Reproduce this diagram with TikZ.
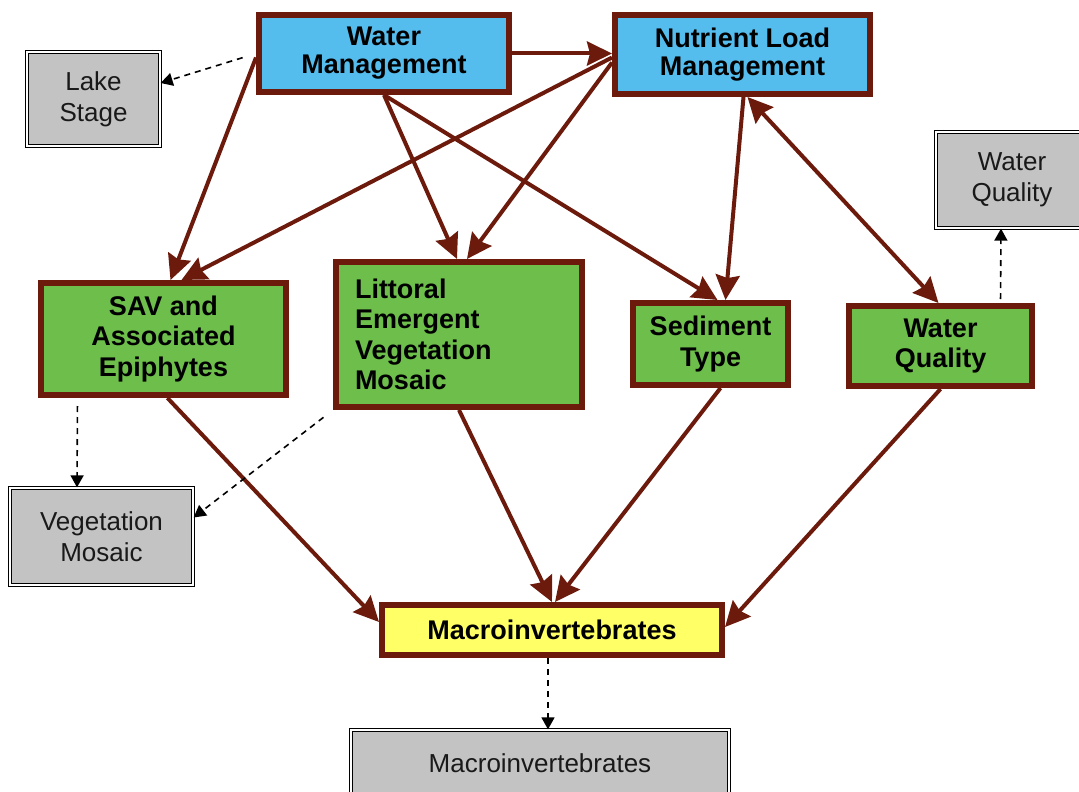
\documentclass[tikz,border=0pt]{standalone}
\usepackage{fontspec}
\setmainfont{Liberation Sans}
\usetikzlibrary{arrows.meta}
\definecolor{rust}{HTML}{6B1A0C}
\definecolor{skyfill}{HTML}{55BDEE}
\definecolor{leaf}{HTML}{6DBE4B}
\definecolor{lemon}{HTML}{FFFF66}
\definecolor{ash}{HTML}{C3C3C3}

\begin{document}
\begin{tikzpicture}[
    x=1pt, y=-1pt,
    driver/.style={
        draw=rust,
        line width=6pt,
        fill=skyfill,
        inner sep=0pt,
        font=\bfseries\fontsize{27}{28}\selectfont,
        align=center,
    },
    habitat/.style={driver, fill=leaf, font=\bfseries\fontsize{27}{30.5}\selectfont},
    target/.style={driver, fill=lemon},
    measure/.style={
        draw=black,
        line width=1.3pt,
        double=white,
        double distance=1.8pt,
        fill=ash,
        inner sep=0pt,
        text=black!90,
        font=\fontsize{26}{31}\selectfont,
        align=center,
    },
    flow/.style={draw=rust, line width=4pt, -{Stealth[length=25pt,width=24pt,inset=3pt]}},
    twoway/.style={flow, {Stealth[length=25pt,width=24pt,inset=3pt]}-{Stealth[length=25pt,width=24pt,inset=3pt]}},
    hint/.style={draw=black, line width=1.6pt, dash pattern=on 6pt off 5pt, -{Triangle[length=12pt,width=13pt]}},
]

\useasboundingbox (0,0) rectangle (1079,792);

\node[driver, minimum width=250, minimum height=77] (wm) at (384, 53.5) {Water\\Management};
\node[driver, minimum width=255, minimum height=79] (nlm) at (742.5, 54.5) {Nutrient Load\\Management};

\node[habitat, minimum width=245, minimum height=112] (sav) at (163.5, 339) {SAV and\\Associated\\Epiphytes};
\node[habitat, minimum width=246, minimum height=145, align=left, text width=208pt] (lit) at (459, 334.5) {Littoral\\Emergent\\Vegetation\\Mosaic};
\node[habitat, minimum width=155, minimum height=82] (sed) at (710.5, 344) {Sediment\\Type};
\node[habitat, minimum width=183, minimum height=80] (wq) at (940.5, 346) {Water\\Quality};

\node[target, minimum width=340, minimum height=50] (macro) at (552, 630) {Macroinvertebrates};

\node[measure, minimum width=133, minimum height=94] (lake) at (93.5, 99) {Lake\\Stage};
\node[measure, minimum width=152, minimum height=96] (wqm) at (1012, 180) {Water\\Quality};
\node[measure, minimum width=183, minimum height=97] (veg) at (101.5, 536.5) {Vegetation\\Mosaic};
\node[measure, minimum width=378, minimum height=66] (macrom) at (540, 763) {Macroinvertebrates};

\draw[flow] (wm.east) -- (wm.east -| nlm.west);
\draw[flow] ([yshift=-4pt]wm.west) -- ([xshift=7pt]sav.north);
\draw[flow] ([yshift=-3pt]nlm.west) -- ([xshift=18pt]sav.north);
\draw[flow] (wm.south) -- ([xshift=-2pt]lit.north);
\draw[flow] ([yshift=-8pt]nlm.west) -- ([xshift=8pt]lit.north);
\draw[flow] (wm.south) -- ([xshift=7pt]sed.north);
\draw[flow] ([xshift=1pt]nlm.south) -- ([xshift=15pt]sed.north);
\draw[twoway] ([xshift=5pt]nlm.south) -- ([xshift=-2pt]wq.north);

\draw[flow] ([xshift=4pt]sav.south) -- ([yshift=8pt]macro.west);
\draw[flow] (lit.south) -- (macro.north);
\draw[flow] ([xshift=10pt]sed.south) -- ([xshift=3pt]macro.north);
\draw[flow] (wq.south) -- ([yshift=3pt]macro.east);

\draw[hint, shorten <=14pt] (wm.west) -- ([yshift=16pt]lake.east);
\draw[hint, shorten <=8pt] ([xshift=-86pt]sav.south) -- ([xshift=-24.5pt]veg.north);
\draw[hint, shorten <=12pt] (lit.south west) -- ([yshift=19pt]veg.east);
\draw[hint, shorten <=4pt] ([xshift=60pt]wq.north) -- ([xshift=-11pt]wqm.south);
\draw[hint] ([xshift=-4pt]macro.south) -- ([xshift=8pt]macrom.north);

\end{tikzpicture}
\end{document}
